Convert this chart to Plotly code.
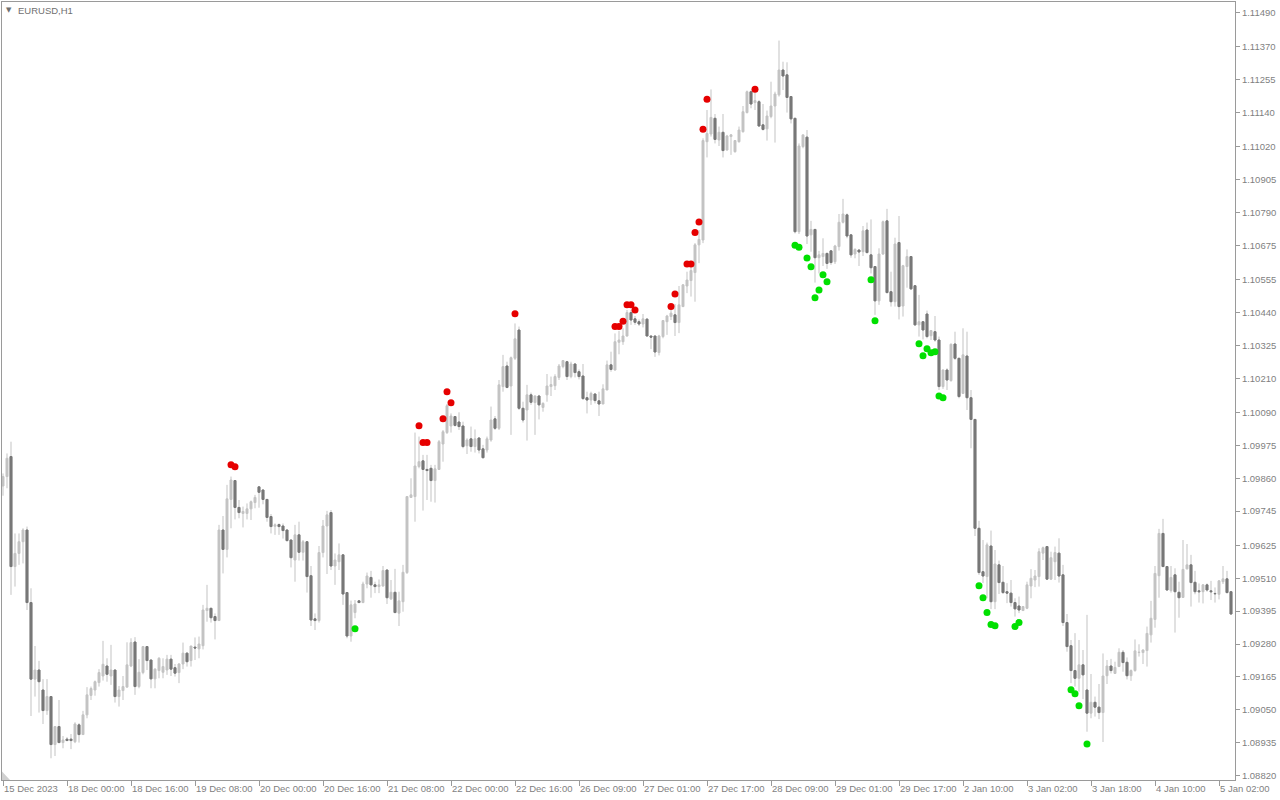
import plotly.graph_objects as go

# ---- data (EURUSD H1) ----
opens = [
 1.09833,1.09866,1.09936,1.09551,1.09597,1.09638,1.09679,1.09425,1.09157,1.09189,
 1.09119,1.09047,1.09096,1.08928,1.08991,1.08935,1.08947,1.08947,1.08938,1.08997,
 1.08963,1.09032,1.09100,1.09119,1.09145,1.09168,1.09203,1.09168,1.09189,1.09096,
 1.09117,1.09129,1.09203,1.09287,1.09131,1.09180,1.09271,1.09224,1.09158,1.09187,
 1.09181,1.09189,1.09227,1.09197,1.09180,1.09210,1.09248,1.09222,1.09269,1.09263,
 1.09274,1.09397,1.09405,1.09376,1.09362,1.09679,1.09611,1.09786,1.09852,1.09758,
 1.09737,1.09737,1.09753,1.09775,1.09830,1.09819,1.09786,1.09726,1.09692,1.09698,
 1.09693,1.09679,1.09644,1.09574,1.09662,1.09601,1.09638,1.09519,1.09368,1.09362,
 1.09600,1.09693,1.09740,1.09553,1.09568,1.09592,1.09460,1.09308,1.09390,1.09431,
 1.09425,1.09490,1.09513,1.09487,1.09481,1.09483,1.09539,1.09438,1.09461,1.09388,
 1.09428,1.09530,1.09793,1.09796,1.09901,1.09921,1.09891,1.09895,1.09852,1.09891,
 1.09980,1.10020,1.10043,1.10076,1.10057,1.10043,1.09974,1.09998,1.09971,1.10001,
 1.09963,1.09959,1.09994,1.10068,1.10035,1.10181,1.10253,1.10183,1.10280,1.10379,
 1.10105,1.10099,1.10152,1.10125,1.10148,1.10108,1.10152,1.10181,1.10184,1.10213,
 1.10251,1.10268,1.10216,1.10260,1.10233,1.10218,1.10142,1.10134,1.10155,1.10131,
 1.10120,1.10169,1.10257,1.10239,1.10336,1.10338,1.10358,1.10440,1.10418,1.10408,
 1.10400,1.10417,1.10358,1.10358,1.10300,1.10356,1.10408,1.10426,1.10432,1.10405,
 1.10461,1.10533,1.10552,1.10580,1.10677,1.10694,1.11038,1.11065,1.11120,1.11044,
 1.11071,1.11009,1.11056,1.11003,1.11038,1.11073,1.11140,1.11213,1.11175,1.11178,
 1.11097,1.11083,1.11126,1.11163,1.11202,1.11289,1.11272,1.11196,1.11120,1.10723,
 1.11021,1.11054,1.10712,1.10731,1.10632,1.10636,1.10647,1.10656,1.10618,1.10671,
 1.10756,1.10782,1.10712,1.10645,1.10659,1.10653,1.10729,1.10642,1.10601,1.10481,
 1.10645,1.10761,1.10513,1.10478,1.10685,1.10463,1.10601,1.10636,1.10534,1.10397,
 1.10408,1.10435,1.10359,1.10373,1.10344,1.10181,1.10239,1.10202,1.10330,1.10280,
 1.10157,1.10288,1.10142,1.10066,1.09685,1.09533,1.09516,1.09623,1.09428,1.09557,
 1.09496,1.09463,1.09458,1.09425,1.09413,1.09397,1.09405,1.09483,1.09504,1.09516,
 1.09598,1.09621,1.09507,1.09568,1.09598,1.09522,1.09355,1.09274,1.09187,1.09160,
 1.09207,1.09119,1.09038,1.09076,1.09059,1.09040,1.09169,1.09203,1.09177,1.09201,
 1.09251,1.09216,1.09169,1.09187,1.09250,1.09250,1.09257,1.09312,1.09366,1.09519,
 1.09667,1.09551,1.09467,1.09522,1.09461,1.09443,1.09543,1.09557,1.09496,1.09466,
 1.09463,1.09487,1.09466,1.09457,1.09454,1.09498,1.09508,1.09463]
highs = [
 1.09877,1.09947,1.09988,1.09667,1.09667,1.09685,1.09691,1.09475,1.09273,1.09221,
 1.09157,1.09157,1.09096,1.08991,1.09084,1.08958,1.08954,1.08965,1.09006,1.09003,
 1.09046,1.09129,1.09131,1.09152,1.09192,1.09291,1.09230,1.09277,1.09189,1.09133,
 1.09168,1.09286,1.09300,1.09304,1.09227,1.09273,1.09273,1.09224,1.09195,1.09234,
 1.09230,1.09242,1.09242,1.09210,1.09213,1.09285,1.09250,1.09273,1.09303,1.09306,
 1.09417,1.09487,1.09405,1.09387,1.09697,1.09728,1.09837,1.09866,1.09854,1.09784,
 1.09761,1.09772,1.09782,1.09802,1.09830,1.09821,1.09786,1.09735,1.09702,1.09702,
 1.09702,1.09681,1.09644,1.09697,1.09708,1.09644,1.09638,1.09553,1.09387,1.09623,
 1.09714,1.09746,1.09749,1.09597,1.09632,1.09592,1.09460,1.09432,1.09434,1.09432,
 1.09498,1.09530,1.09536,1.09498,1.09506,1.09553,1.09539,1.09504,1.09543,1.09463,
 1.09557,1.09796,1.09860,1.10020,1.10006,1.09942,1.09942,1.09907,1.09907,1.09994,
 1.10029,1.10120,1.10087,1.10078,1.10091,1.10058,1.10000,1.10041,1.10031,1.10003,
 1.09977,1.10006,1.10111,1.10078,1.10204,1.10292,1.10268,1.10286,1.10402,1.10391,
 1.10128,1.10187,1.10160,1.10150,1.10152,1.10126,1.10225,1.10216,1.10224,1.10260,
 1.10274,1.10271,1.10268,1.10262,1.10241,1.10260,1.10163,1.10163,1.10157,1.10163,
 1.10189,1.10272,1.10303,1.10367,1.10376,1.10385,1.10449,1.10449,1.10428,1.10416,
 1.10435,1.10420,1.10358,1.10358,1.10362,1.10414,1.10432,1.10449,1.10470,1.10533,
 1.10540,1.10583,1.10601,1.10683,1.10729,1.11050,1.11149,1.11221,1.11135,1.11091,
 1.11135,1.11062,1.11065,1.11044,1.11091,1.11163,1.11217,1.11217,1.11219,1.11184,
 1.11170,1.11147,1.11248,1.11213,1.11392,1.11318,1.11316,1.11196,1.11120,1.11032,
 1.11062,1.11079,1.10761,1.10731,1.10656,1.10700,1.10650,1.10659,1.10677,1.10785,
 1.10838,1.10787,1.10714,1.10665,1.10659,1.10743,1.10755,1.10766,1.10601,1.10665,
 1.10762,1.10803,1.10583,1.10702,1.10778,1.10607,1.10661,1.10636,1.10534,1.10502,
 1.10408,1.10447,1.10379,1.10428,1.10356,1.10241,1.10245,1.10332,1.10373,1.10280,
 1.10385,1.10373,1.10169,1.10066,1.09711,1.09644,1.09635,1.09677,1.09609,1.09572,
 1.09553,1.09493,1.09504,1.09440,1.09446,1.09413,1.09498,1.09542,1.09539,1.09615,
 1.09621,1.09623,1.09603,1.09621,1.09650,1.09557,1.09385,1.09294,1.09318,1.09294,
 1.09259,1.09382,1.09175,1.09096,1.09140,1.09247,1.09224,1.09228,1.09218,1.09265,
 1.09259,1.09233,1.09191,1.09296,1.09279,1.09261,1.09341,1.09431,1.09553,1.09683,
 1.09718,1.09551,1.09553,1.09545,1.09498,1.09644,1.09630,1.09592,1.09536,1.09492,
 1.09490,1.09492,1.09501,1.09478,1.09504,1.09553,1.09536,1.09463]
lows = [
 1.09799,1.09825,1.09452,1.09481,1.09557,1.09562,1.09399,1.09028,1.09096,1.09040,
 1.09000,1.09032,1.08880,1.08888,1.08933,1.08915,1.08942,1.08912,1.08933,1.08935,
 1.08963,1.09020,1.09084,1.09099,1.09131,1.09152,1.09148,1.09137,1.09075,1.09061,
 1.09084,1.09129,1.09199,1.09102,1.09125,1.09174,1.09189,1.09125,1.09125,1.09160,
 1.09160,1.09172,1.09168,1.09166,1.09143,1.09192,1.09201,1.09201,1.09224,1.09230,
 1.09261,1.09358,1.09355,1.09296,1.09362,1.09527,1.09583,1.09685,1.09716,1.09720,
 1.09688,1.09716,1.09714,1.09755,1.09757,1.09769,1.09708,1.09667,1.09662,1.09662,
 1.09649,1.09638,1.09548,1.09498,1.09572,1.09572,1.09460,1.09343,1.09329,1.09355,
 1.09583,1.09525,1.09539,1.09487,1.09539,1.09417,1.09300,1.09288,1.09370,1.09425,
 1.09423,1.09475,1.09442,1.09458,1.09458,1.09481,1.09420,1.09434,1.09388,1.09343,
 1.09393,1.09525,1.09793,1.09708,1.09895,1.09747,1.09784,1.09778,1.09775,1.09889,
 1.09918,1.10015,1.10020,1.10041,1.10029,1.09965,1.09945,1.09953,1.09950,1.09947,
 1.09930,1.09950,1.09988,1.10029,1.10029,1.10163,1.10175,1.10012,1.10274,1.10099,
 1.10055,1.09992,1.10117,1.10012,1.10066,1.10093,1.10128,1.10148,1.10169,1.10204,
 1.10245,1.10204,1.10210,1.10213,1.10206,1.10134,1.10087,1.10117,1.10122,1.10078,
 1.10120,1.10169,1.10233,1.10237,1.10294,1.10327,1.10356,1.10397,1.10397,1.10393,
 1.10388,1.10358,1.10312,1.10285,1.10290,1.10350,1.10362,1.10414,1.10358,1.10368,
 1.10459,1.10508,1.10496,1.10478,1.10613,1.10683,1.10983,1.11056,1.11032,1.11023,
 1.10983,1.11007,1.10992,1.11000,1.11035,1.11070,1.11137,1.11155,1.11149,1.11091,
 1.11077,1.11042,1.11120,1.11035,1.11196,1.11219,1.11140,1.11102,1.10717,1.10715,
 1.11015,1.10680,1.10653,1.10545,1.10577,1.10603,1.10593,1.10607,1.10610,1.10657,
 1.10752,1.10700,1.10632,1.10630,1.10603,1.10638,1.10647,1.10577,1.10432,1.10467,
 1.10642,1.10507,1.10461,1.10461,1.10416,1.10426,1.10527,1.10519,1.10393,1.10356,
 1.10346,1.10350,1.10344,1.10338,1.10169,1.10173,1.10169,1.10198,1.10274,1.10140,
 1.10157,1.10099,1.09965,1.09658,1.09522,1.09493,1.09440,1.09402,1.09402,1.09455,
 1.09455,1.09423,1.09411,1.09376,1.09388,1.09397,1.09402,1.09440,1.09479,1.09481,
 1.09574,1.09504,1.09504,1.09504,1.09495,1.09343,1.09253,1.09143,1.09131,1.09113,
 1.09087,1.08973,1.09020,1.09026,1.09017,1.08937,1.09140,1.09177,1.09175,1.09201,
 1.09183,1.09156,1.09151,1.09183,1.09236,1.09210,1.09201,1.09285,1.09337,1.09442,
 1.09551,1.09467,1.09460,1.09320,1.09372,1.09443,1.09541,1.09411,1.09454,1.09425,
 1.09422,1.09463,1.09434,1.09425,1.09436,1.09490,1.09457,1.09382]
closes = [
 1.09866,1.09930,1.09551,1.09597,1.09638,1.09679,1.09425,1.09157,1.09189,1.09148,
 1.09047,1.09096,1.08928,1.08991,1.08935,1.08944,1.08942,1.08942,1.09000,1.08963,
 1.09032,1.09102,1.09124,1.09148,1.09180,1.09209,1.09174,1.09189,1.09096,1.09119,
 1.09131,1.09207,1.09285,1.09131,1.09181,1.09271,1.09222,1.09158,1.09192,1.09230,
 1.09201,1.09227,1.09192,1.09178,1.09210,1.09248,1.09218,1.09273,1.09266,1.09280,
 1.09399,1.09405,1.09372,1.09362,1.09679,1.09611,1.09788,1.09854,1.09758,1.09740,
 1.09744,1.09753,1.09778,1.09793,1.09811,1.09786,1.09723,1.09691,1.09697,1.09691,
 1.09677,1.09642,1.09582,1.09662,1.09601,1.09638,1.09516,1.09364,1.09362,1.09600,
 1.09693,1.09732,1.09553,1.09574,1.09592,1.09455,1.09308,1.09417,1.09420,1.09425,
 1.09490,1.09518,1.09487,1.09481,1.09487,1.09537,1.09442,1.09461,1.09390,1.09431,
 1.09531,1.09796,1.09802,1.09903,1.09918,1.09891,1.09887,1.09852,1.09893,1.09988,
 1.10023,1.10114,1.10078,1.10045,1.10041,1.09971,1.09994,1.09971,1.09998,1.09959,
 1.09932,1.09998,1.10064,1.10035,1.10187,1.10251,1.10178,1.10282,1.10348,1.10105,
 1.10064,1.10152,1.10126,1.10148,1.10117,1.10122,1.10183,1.10188,1.10216,1.10253,
 1.10272,1.10216,1.10260,1.10230,1.10216,1.10139,1.10134,1.10157,1.10132,1.10120,
 1.10173,1.10257,1.10241,1.10338,1.10344,1.10358,1.10440,1.10414,1.10406,1.10400,
 1.10418,1.10358,1.10354,1.10302,1.10358,1.10412,1.10428,1.10438,1.10405,1.10467,
 1.10537,1.10554,1.10587,1.10677,1.10696,1.11042,1.11067,1.11123,1.11046,1.11071,
 1.11007,1.11058,1.11062,1.11042,1.11079,1.11143,1.11213,1.11170,1.11182,1.11093,
 1.11081,1.11128,1.11163,1.11205,1.11289,1.11268,1.11193,1.11118,1.10723,1.11023,
 1.11062,1.10708,1.10731,1.10632,1.10642,1.10647,1.10612,1.10615,1.10673,1.10756,
 1.10785,1.10708,1.10642,1.10661,1.10652,1.10726,1.10650,1.10597,1.10481,1.10645,
 1.10758,1.10510,1.10478,1.10680,1.10461,1.10604,1.10636,1.10523,1.10397,1.10408,
 1.10379,1.10356,1.10377,1.10344,1.10181,1.10239,1.10204,1.10329,1.10280,1.10146,
 1.10292,1.10142,1.10066,1.09685,1.09530,1.09518,1.09627,1.09428,1.09560,1.09495,
 1.09460,1.09458,1.09425,1.09403,1.09399,1.09411,1.09487,1.09510,1.09518,1.09603,
 1.09617,1.09507,1.09582,1.09600,1.09518,1.09355,1.09271,1.09187,1.09160,1.09207,
 1.09172,1.09038,1.09076,1.09059,1.09040,1.09168,1.09203,1.09187,1.09198,1.09251,
 1.09215,1.09169,1.09187,1.09256,1.09251,1.09259,1.09317,1.09370,1.09527,1.09667,
 1.09551,1.09469,1.09513,1.09463,1.09442,1.09541,1.09557,1.09495,1.09463,1.09463,
 1.09487,1.09469,1.09463,1.09456,1.09501,1.09508,1.09460,1.09385]

# signal dots (bar index, price)
sell_idx = [57, 58, 104, 105, 106, 110, 111, 112, 128, 153, 154, 155, 156, 157, 158,
            167, 168, 171, 172, 173, 174, 175, 176, 188]
sell_px = [1.09907, 1.09900, 1.10044, 1.09985, 1.09985, 1.10068, 1.10163, 1.10124, 1.10436,
           1.10391, 1.10391, 1.10410, 1.10467, 1.10467, 1.10449,
           1.10461, 1.10505, 1.10610, 1.10610, 1.10720, 1.10757, 1.11082, 1.11187, 1.11222]
buy_idx = [88, 198, 199, 201, 202, 203, 204, 205, 206, 217, 218, 229, 230, 231, 232, 233,
           234, 235, 244, 245, 246, 247, 248, 253, 254, 267, 268, 269, 271]
buy_px = [1.09333, 1.10676, 1.10669, 1.10631, 1.10600, 1.10492, 1.10519, 1.10572, 1.10548,
          1.10555, 1.10411, 1.10331, 1.10289, 1.10313, 1.10299, 1.10303, 1.10148, 1.10142,
          1.09484, 1.09442, 1.09390, 1.09348, 1.09344, 1.09341, 1.09355,
          1.09120, 1.09106, 1.09064, 1.08930]

x_tick_pos = list(range(0, 305, 16))
x_tick_text = ["15 Dec 2023", "18 Dec 00:00", "18 Dec 16:00", "19 Dec 08:00", "20 Dec 00:00",
               "20 Dec 16:00", "21 Dec 08:00", "22 Dec 00:00", "22 Dec 16:00", "26 Dec 09:00",
               "27 Dec 01:00", "27 Dec 17:00", "28 Dec 09:00", "29 Dec 01:00", "29 Dec 17:00",
               "2 Jan 10:00", "3 Jan 02:00", "3 Jan 18:00", "4 Jan 10:00", "5 Jan 02:00"]
y_tick_vals = [1.11490, 1.11370, 1.11255, 1.11140, 1.11020, 1.10905, 1.10790, 1.10675,
               1.10555, 1.10440, 1.10325, 1.10210, 1.10090, 1.09975, 1.09860, 1.09745,
               1.09625, 1.09510, 1.09395, 1.09280, 1.09165, 1.09050, 1.08935, 1.08820]

# ---- figure ----
LIGHT = "#c3c3c3"
DARK = "#777777"
AXIS = "#9a9a9a"
TXT = "#7f7f7f"
FONT = "Liberation Sans"

n = len(opens)
xs = list(range(n))
bear = [i for i in xs if closes[i] < opens[i]]

fig = go.Figure()
fig.add_trace(go.Candlestick(
    x=xs, open=opens, high=highs, low=lows, close=closes,
    increasing=dict(line=dict(color=LIGHT, width=1), fillcolor=LIGHT),
    decreasing=dict(line=dict(color=LIGHT, width=1), fillcolor=LIGHT),
    whiskerwidth=0, hoverinfo="skip", showlegend=False))
fig.add_trace(go.Candlestick(
    x=bear,
    open=[opens[i] for i in bear], close=[closes[i] for i in bear],
    high=[opens[i] for i in bear], low=[closes[i] for i in bear],
    increasing=dict(line=dict(color=DARK, width=1), fillcolor=DARK),
    decreasing=dict(line=dict(color=DARK, width=1), fillcolor=DARK),
    whiskerwidth=0, hoverinfo="skip", showlegend=False))
fig.add_trace(go.Scatter(x=sell_idx, y=sell_px, mode="markers",
                         marker=dict(color="#e60000", size=7, line=dict(width=0)),
                         showlegend=False, hoverinfo="skip"))
fig.add_trace(go.Scatter(x=buy_idx, y=buy_px, mode="markers",
                         marker=dict(color="#00e000", size=7, line=dict(width=0)),
                         showlegend=False, hoverinfo="skip"))

fig.update_layout(
    width=1280, height=800,
    margin=dict(l=2, r=45, t=2, b=20),
    paper_bgcolor="white", plot_bgcolor="white",
    font=dict(family=FONT, size=9.5, color=TXT),
    xaxis=dict(range=[-0.25, 308], showgrid=False, zeroline=False,
               rangeslider=dict(visible=False), automargin=False,
               tickmode="array", tickvals=x_tick_pos, ticktext=x_tick_text,
               tickangle=0,
               ticks="outside", ticklen=5, tickcolor=AXIS, tickwidth=1,
               ticklabelposition="outside right",
               showline=True, linecolor=AXIS, linewidth=1, mirror=True),
    yaxis=dict(range=[1.08804, 1.11527], side="right", showgrid=False, zeroline=False,
               automargin=False,
               tickmode="array", tickvals=y_tick_vals,
               ticktext=[f"{v:.5f}" for v in y_tick_vals],
               ticks="outside", ticklen=4, tickcolor=AXIS, tickwidth=1,
               showline=True, linecolor=AXIS, linewidth=1, mirror=True),
    annotations=[
        dict(xref="paper", yref="paper", x=0.002, y=0.9895, xanchor="left", yanchor="middle",
             text="▼", showarrow=False, font=dict(family="DejaVu Sans", size=7, color="#707070")),
        dict(xref="paper", yref="paper", x=0.0115, y=0.9895, xanchor="left", yanchor="middle",
             text="EURUSD,H1", showarrow=False, font=dict(family=FONT, size=9.5, color="#707070")),
    ],
    shapes=[dict(type="path", xref="paper", yref="paper",
                 path="M 0 0 L 0 0.011 L 0.0065 0 Z",
                 fillcolor="#d0d0d0", line=dict(width=0))],
)

fig.write_html("out.html", config={"displayModeBar": False},
               post_script="document.body.style.margin='0';")
